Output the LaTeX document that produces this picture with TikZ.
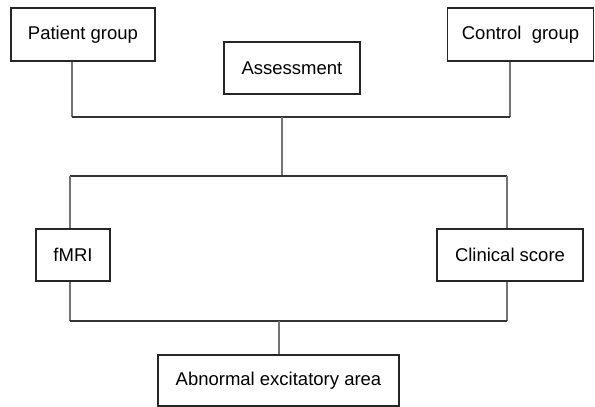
\documentclass[tikz,border=0pt]{standalone}
\usepackage{fontspec}
\setmainfont{Liberation Sans}
\begin{document}
\begin{tikzpicture}[x=1pt,y=-1pt,
    box/.style={draw=black!85, line width=1.3pt, inner sep=0pt,
      font=\fontsize{18.5}{21}\selectfont},
    vline/.style={draw=black!55, line width=1.1pt},
    hline/.style={draw=black!80, line width=1.2pt}]
    \useasboundingbox (0,0) rectangle (595,407);
    % boxes
    \node[box, minimum width=144pt, minimum height=53pt] (patient) at (83,34.5) {Patient group};
    \node[box, minimum width=136pt, minimum height=52pt] (assess) at (292,68) {Assessment};
    \node[box, minimum width=146pt, minimum height=53pt] (control) at (520.5,34.5) {Control\ \ group};
    \node[box, minimum width=74pt, minimum height=52pt] (fmri) at (73,255) {fMRI};
    \node[box, minimum width=146pt, minimum height=52pt] (clinical) at (510,255) {Clinical score};
    \node[box, minimum width=241pt, minimum height=51pt] (abnormal) at (278.5,380.5) {Abnormal excitatory area};
    % junctions
    \coordinate (tl) at (72,117);
    \coordinate (tr) at (510,117);
    \coordinate (tm) at (282,117);
    \coordinate (ml) at (70,176);
    \coordinate (mr) at (507,176);
    \coordinate (mm) at (282,176);
    \coordinate (bl) at (70,321);
    \coordinate (br) at (507,321);
    \coordinate (bm) at (279,321);
    % connectors
    \draw[vline] (patient.south -| tl) -- (tl);
    \draw[vline] (control.south -| tr) -- (tr);
    \draw[hline] (tl) -- (tr);
    \draw[vline] (tm) -- (mm);
    \draw[hline] (ml) -- (mr);
    \draw[vline] (ml) -- (fmri.north -| ml);
    \draw[vline] (mr) -- (clinical.north -| mr);
    \draw[vline] (fmri.south -| bl) -- (bl);
    \draw[vline] (clinical.south -| br) -- (br);
    \draw[hline] (bl) -- (br);
    \draw[vline] (bm) -- (abnormal.north -| bm);
\end{tikzpicture}
\end{document}
